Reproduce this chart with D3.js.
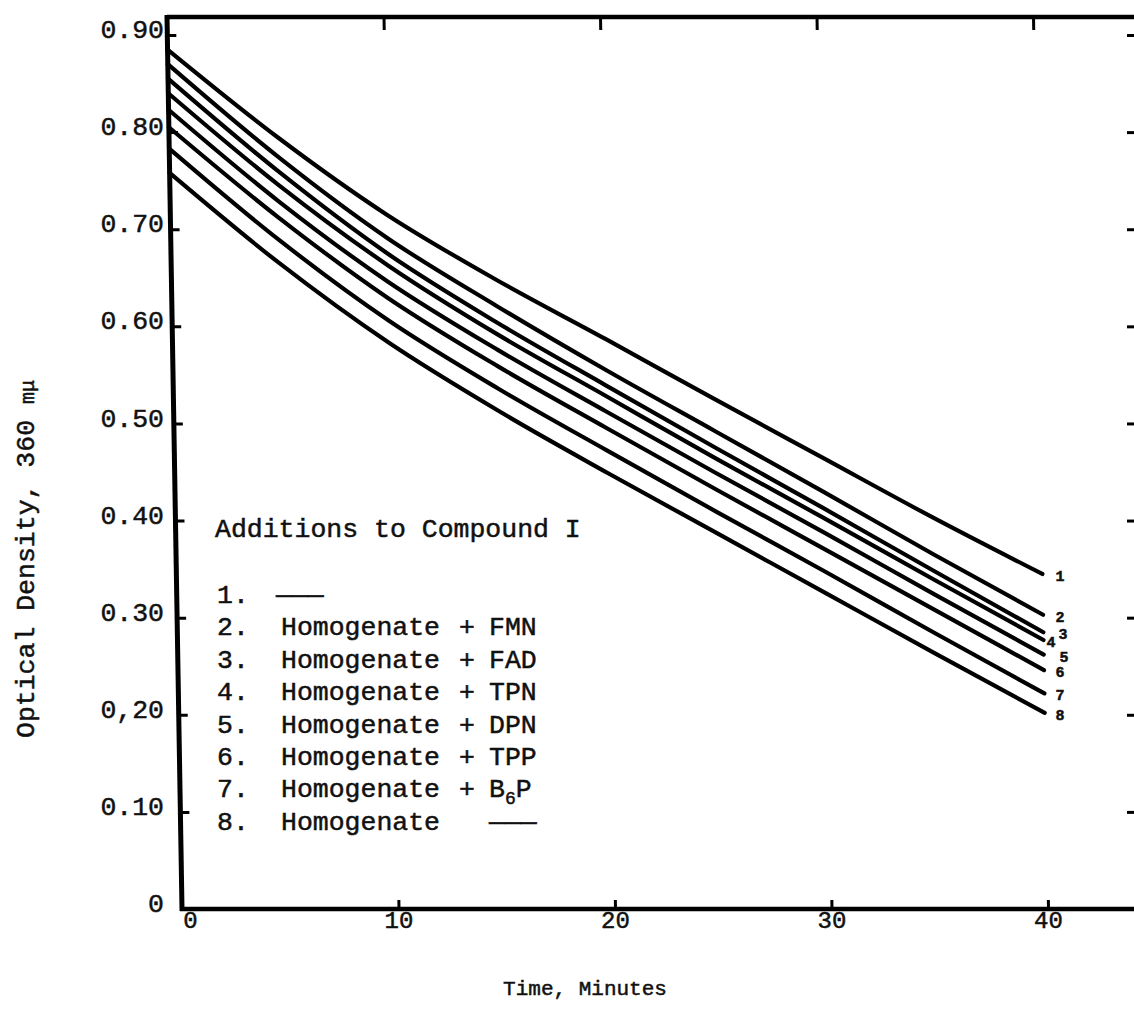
<!doctype html>
<html>
<head>
<meta charset="utf-8">
<script src="https://d3js.org/d3.v7.min.js"></script>
<style>
  body { margin: 0; background: #fff; }
  text { font-family: "Liberation Mono", "DejaVu Sans Mono", monospace; fill: #111; stroke: #111; stroke-width: 0.5px; }
</style>
</head>
<body>
<div id="chart"></div>
<script>
// time in minutes, optical density
var times = [0, 5, 10, 15, 20, 25, 30, 35, 40];
var od1 = [0.885, 0.795, 0.715, 0.648, 0.587, 0.525, 0.464, 0.403, 0.345];
var od2 = [0.870, 0.775, 0.691, 0.621, 0.555, 0.492, 0.429, 0.365, 0.303];
var od3 = [0.855, 0.760, 0.675, 0.604, 0.539, 0.475, 0.412, 0.348, 0.285];
var od4 = [0.840, 0.746, 0.663, 0.592, 0.528, 0.464, 0.402, 0.339, 0.277];
var od5 = [0.823, 0.729, 0.646, 0.576, 0.512, 0.449, 0.387, 0.324, 0.262];
var od6 = [0.805, 0.712, 0.629, 0.559, 0.495, 0.432, 0.370, 0.308, 0.246];
var od7 = [0.783, 0.689, 0.606, 0.536, 0.472, 0.409, 0.347, 0.284, 0.222];
var od8 = [0.758, 0.665, 0.583, 0.513, 0.449, 0.387, 0.325, 0.263, 0.202];
var curveNames = ["1", "2", "3", "4", "5", "6", "7", "8"];

var xTicks = [0, 10, 20, 30, 40];
var xTickLabels = ["0", "10", "20", "30", "40"];
var yTicks = [0, 0.1, 0.2, 0.3, 0.4, 0.5, 0.6, 0.7, 0.8, 0.9];
var yTickLabels = ["0", "0.10", "0,20", "0.30", "0.40", "0.50", "0.60", "0.70", "0.80", "0.90"];

var legendTitle = "Additions to Compound I";
var legendNumbers = ["1.", "2.", "3.", "4.", "5.", "6.", "7.", "8."];
var legendBase = ["\u2014\u2014\u2014", "Homogenate", "Homogenate", "Homogenate", "Homogenate", "Homogenate", "Homogenate", "Homogenate"];
var legendAddition = ["", "FMN", "FAD", "TPN", "DPN", "TPP", "B6P", "\u2014\u2014\u2014"];

var width = 1134, height = 1017;
var series = [od1, od2, od3, od4, od5, od6, od7, od8];

var svg = d3.select("#chart").append("svg")
    .attr("width", width)
    .attr("height", height);

var x = d3.scaleLinear().domain([0, 40]).range([182, 1048]);
var y = d3.scaleLinear().domain([0, 0.9]).range([909, 35]);

// the hand drawn frame leans a little: shear about the bottom axis
var plot = svg.append("g")
    .attr("transform", "translate(0,909) skewX(0.963) translate(0,-909)");

// frame lines
plot.append("line").attr("x1", 182).attr("y1", 17).attr("x2", 1160).attr("y2", 17)
    .attr("stroke", "#000").attr("stroke-width", 4.5);
plot.append("line").attr("x1", 182).attr("y1", 15).attr("x2", 182).attr("y2", 911)
    .attr("stroke", "#000").attr("stroke-width", 5);
plot.append("line").attr("x1", 180).attr("y1", 909).attr("x2", 1140).attr("y2", 909)
    .attr("stroke", "#000").attr("stroke-width", 4.5);

// inside ticks
plot.append("g").attr("transform", "translate(182,0)")
    .call(d3.axisLeft(y).tickValues(yTicks.slice(1)).tickSize(-9).tickFormat(""))
    .call(function(g) { g.select(".domain").remove(); g.selectAll("line").attr("stroke-width", 3); });
plot.append("g").attr("transform", "translate(0,909)")
    .call(d3.axisBottom(x).tickValues(xTicks.slice(1)).tickSize(-9).tickFormat(""))
    .call(function(g) { g.select(".domain").remove(); g.selectAll("line").attr("stroke-width", 3); });
plot.append("g").attr("transform", "translate(0,17)")
    .call(d3.axisTop(x).tickValues(xTicks.slice(1)).tickSize(-13).tickFormat(""))
    .call(function(g) { g.select(".domain").remove(); g.selectAll("line").attr("stroke-width", 3); });

// curves
var line = d3.line()
    .curve(d3.curveMonotoneX)
    .x(function(d, i) { return x(times[i]); })
    .y(function(d) { return y(d); });

series.forEach(function(s) {
  plot.append("path")
      .datum(s)
      .attr("fill", "none")
      .attr("stroke", "#000")
      .attr("stroke-width", 4.2)
      .attr("stroke-linecap", "round")
      .attr("d", line);
});

// right edge ticks (frame itself runs off the page)
svg.append("g").attr("transform", "translate(1134,0)")
    .call(d3.axisLeft(y).tickValues(yTicks.slice(1)).tickSize(7).tickFormat(""))
    .call(function(g) { g.select(".domain").remove(); g.selectAll("line").attr("stroke-width", 3); });

// tick labels
svg.append("g").attr("transform", "translate(164,0)")
    .call(d3.axisLeft(y).tickValues(yTicks).tickSize(0).tickPadding(0)
      .tickFormat(function(d, i) { return yTickLabels[i]; }))
    .call(function(g) {
      g.select(".domain").remove();
      g.selectAll("text").attr("dy", "0.1em")
        .style("font-size", "26.5px").style("font-family", "'Liberation Mono', monospace");
    });

svg.append("g").attr("transform", "translate(0,909)")
    .call(d3.axisBottom(x).tickValues(xTicks).tickSize(0).tickPadding(2)
      .tickFormat(function(d, i) { return xTickLabels[i]; }))
    .call(function(g) {
      g.select(".domain").remove();
      g.selectAll("text")
        .attr("dx", function(d) { return d === 0 ? 8 : 0; })
        .style("font-size", "24px").style("font-family", "'Liberation Mono', monospace");
    });

// curve numbers at right ends, the crowded 3/4/5 are pushed sideways a little
var labelShift = [0, 0, 3, -9, 4, 0, 0, 0];
svg.append("g").selectAll("text")
    .data(series)
    .join("text")
    .attr("x", function(d, i) { return x(40) + 12 + labelShift[i]; })
    .attr("y", function(d) { return y(d[d.length - 1]) + 7; })
    .attr("text-anchor", "middle")
    .style("font-size", "15px")
    .style("font-weight", "bold")
    .text(function(d, i) { return curveNames[i]; });

// legend block
var legend = svg.append("g");
legend.append("text").attr("x", 215).attr("y", 537)
    .style("font-size", "26.5px").text(legendTitle);

var rowY = function(i) { return 603 + i * 32.4; };
legendNumbers.forEach(function(num, i) {
  var row = legend.append("text").attr("y", rowY(i)).style("font-size", "26.5px");
  row.append("tspan").attr("x", 217).text(num);
  row.append("tspan").attr("x", i === 0 ? 276 : 281).text(legendBase[i]);
  var add = legendAddition[i];
  if (add === "") return;
  if (add.charAt(0) !== "\u2014") row.append("tspan").attr("x", 459).text("+");
  if (add === "B6P") {
    row.append("tspan").attr("x", 489).text("B");
    row.append("tspan").attr("dy", 7).style("font-size", "18px").text("6");
    row.append("tspan").attr("dy", -7).text("P");
  } else {
    row.append("tspan").attr("x", 489).text(add);
  }
});

// axis titles
svg.append("text")
    .attr("transform", "translate(34,738) rotate(-90)")
    .style("font-size", "26.5px")
    .text("Optical Density, 360 ")
  .append("tspan").style("font-size", "20px").text("m\u03bc");

svg.append("text")
    .attr("x", 585).attr("y", 995)
    .attr("text-anchor", "middle")
    .style("font-size", "21px")
    .text("Time, Minutes");
</script>
</body>
</html>
